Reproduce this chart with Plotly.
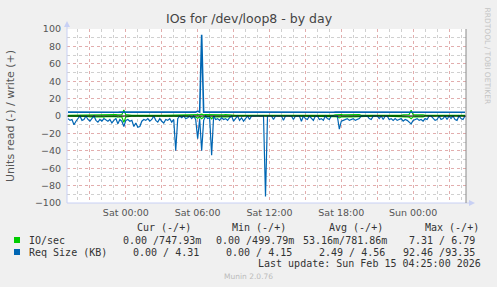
import pandas as pd
import plotly.graph_objects as go

# ---------------- data (10-minute samples, Fri 19:10 -> Sun 04:20) ----------------
START = "2026-02-13 19:10"
N_POINTS = 200

# Req Size (KB), read (plotted negative)
read_size = [
    3, 5, 4, 10, 6, 3, 0, 5, 4, 0,
    4, 6, 3, 0, 5, 7, 4, 6, 3, 5,
    6, 4, 8, 5, 3, 9, 4, 6, 12, 5,
    4, 6, 5, 12, 8, 13, 12, 6, 4, 5,
    3, 6, 4, 0, 5, 7, 3, 6, 8, 4,
    5, 3, 7, 4, 40, 3, 0, 2, 0, 3,
    2, 0, 3, 0, 4, 26, 3, 40, 5, 0,
    3, 2, 45, 0, 4, 3, 5, 2, 4, 3,
    5, 2, 0, 6, 3, 0, 5, 2, 6, 3,
    0, 4, 0, 0, 0, 0, 0, 0, 0, 92.46,
    0, 0, 0, 4, 0, 0, 0, 0, 5, 0,
    0, 0, 0, 4, 0, 0, 0, 6, 0, 3,
    4, 0, 3, 5, 0, 0, 4, 3, 5, 0,
    3, 4, 0, 0, 0, 0, 15, 6, 5, 4,
    3, 5, 4, 3, 5, 4, 3, 0, 0, 0,
    0, 3, 4, 0, 0, 0, 3, 0, 4, 0,
    0, 4, 3, 5, 3, 5, 4, 3, 6, 4,
    5, 7, 9, 5, 4, 3, 5, 4, 6, 3,
    4, 0, 0, 3, 5, 4, 0, 4, 3, 0,
    4, 0, 3, 0, 4, 5, 0, 3, 4, 0,
]

# Req Size (KB), write (plotted positive)
write_size = [
    4.41, 4.38, 4.45, 4.40, 4.36, 4.43, 4.47, 4.39, 4.42, 4.44,
    4.40, 4.37, 4.46, 4.42, 4.39, 4.41, 4.44, 4.38, 4.43, 4.40,
    4.45, 4.39, 4.42, 4.47, 4.40, 4.36, 4.43, 4.41, 4.50, 4.44,
    4.39, 4.42, 4.40, 4.46, 4.41, 4.38, 4.44, 4.40, 4.43, 4.39,
    4.42, 4.45, 4.38, 4.41, 4.40, 4.43, 4.47, 4.39, 4.41, 4.44,
    4.40, 4.42, 4.38, 4.45, 4.41, 4.39, 4.43, 4.40, 4.44, 4.42,
    4.38, 4.41, 4.46, 4.40, 4.43, 5.60, 4.39, 93.35, 4.42, 4.40,
    4.44, 4.38, 4.47, 4.41, 4.40, 4.43, 4.39, 4.45, 4.42, 4.40,
    4.37, 4.44, 4.41, 4.39, 4.43, 4.40, 4.46, 4.42, 4.38, 4.41,
    4.44, 4.40, 4.43, 4.39, 4.41, 4.45, 4.40, 4.38, 4.42, 4.44,
    4.41, 4.39, 4.43, 4.40, 4.46, 4.42, 4.38, 4.41, 4.44, 4.40,
    4.43, 4.39, 4.41, 4.45, 4.40, 4.38, 4.42, 4.44, 4.41, 4.39,
    4.43, 4.40, 4.46, 4.42, 4.38, 4.41, 4.44, 4.40, 4.43, 4.39,
    4.41, 4.45, 4.40, 4.38, 4.42, 4.44, 4.48, 4.39, 4.43, 4.40,
    4.46, 4.42, 4.38, 4.41, 4.44, 4.40, 4.43, 4.39, 4.41, 4.45,
    4.40, 4.38, 4.42, 4.44, 4.41, 4.39, 4.43, 4.40, 4.46, 4.42,
    4.38, 4.41, 4.44, 4.40, 4.43, 4.39, 4.41, 4.45, 4.40, 4.38,
    4.42, 4.44, 4.49, 4.39, 4.43, 4.40, 4.46, 4.42, 4.38, 4.41,
    4.44, 4.40, 4.43, 4.39, 4.41, 4.45, 4.40, 4.38, 4.42, 4.44,
    4.41, 4.39, 4.43, 4.40, 4.36, 4.42, 4.38, 4.35, 4.33, 4.31,
]

# IO/sec, write (plotted positive)
write_ios = [
    0.70, 0.75, 0.72, 0.80, 0.74, 0.71, 0.68, 0.76, 0.73, 0.70,
    1.40, 1.60, 1.20, 1.50, 1.70, 1.30, 1.50, 1.40, 1.80, 1.30,
    1.50, 1.60, 1.40, 1.70, 1.50, 1.30, 1.60, 1.40, 6.79, 1.50,
    1.30, 0.80, 0.75, 0.72, 0.78, 0.70, 0.76, 0.74, 0.71, 0.73,
    0.75, 0.72, 0.70, 0.77, 0.74, 0.71, 0.76, 0.73, 0.70, 0.75,
    0.72, 0.78, 0.74, 0.71, 0.76, 0.73, 0.70, 0.75, 0.72, 0.74,
    0.71, 1.30, 1.50, 1.40, 1.60, 1.80, 1.50, 2.20, 1.40, 1.60,
    1.50, 1.30, 1.90, 1.40, 1.60, 1.50, 1.30, 1.50, 1.40, 1.60,
    1.30, 1.50, 0.75, 0.72, 0.70, 0.74, 0.71, 0.76, 0.73, 0.70,
    0.75, 0.72, 0.70, 0.74, 0.71, 0.76, 0.73, 0.70, 0.75, 0.72,
    0.74, 0.71, 0.76, 0.73, 0.70, 0.75, 0.72, 0.74, 0.71, 0.76,
    0.73, 0.70, 0.75, 0.72, 0.74, 0.71, 0.76, 0.73, 0.70, 0.75,
    0.72, 0.74, 0.71, 0.76, 0.73, 0.70, 0.75, 0.72, 0.74, 0.71,
    0.76, 0.73, 0.70, 0.75, 1.40, 1.50, 2.30, 1.60, 1.40, 1.50,
    1.60, 1.40, 1.50, 1.30, 1.60, 1.40, 1.50, 0.74, 0.71, 0.76,
    0.73, 0.70, 0.75, 0.72, 0.74, 0.71, 0.76, 0.73, 0.70, 0.75,
    0.72, 0.74, 0.71, 0.76, 0.73, 0.70, 0.75, 0.72, 1.40, 1.60,
    1.50, 1.70, 6.50, 1.60, 1.40, 1.50, 1.30, 1.60, 1.40, 0.75,
    0.72, 0.74, 0.71, 0.76, 0.73, 0.70, 0.75, 0.72, 0.74, 0.71,
    0.76, 0.73, 0.70, 0.75, 0.72, 0.74, 0.71, 0.76, 0.73, 0.748,
]

# IO/sec, read (plotted negative)
read_ios = [
    0.03, 0.05, 0.02, 0.08, 0.04, 0.02, 0.00, 0.04, 0.03, 0.00,
    0.60, 0.90, 0.50, 0.80, 1.10, 0.60, 0.90, 0.70, 1.20, 0.60,
    0.80, 0.90, 1.30, 0.70, 0.60, 1.40, 0.80, 1.10, 7.31, 0.90,
    0.70, 0.06, 0.05, 0.09, 0.07, 0.10, 0.09, 0.05, 0.03, 0.04,
    0.02, 0.05, 0.03, 0.00, 0.04, 0.06, 0.02, 0.05, 0.07, 0.03,
    0.04, 0.02, 0.06, 0.03, 0.30, 0.02, 0.00, 0.01, 0.00, 0.02,
    0.01, 0.80, 1.00, 0.70, 1.20, 2.60, 0.90, 3.00, 1.10, 0.80,
    1.00, 0.70, 3.20, 0.80, 1.10, 0.90, 1.20, 0.80, 1.00, 0.90,
    1.10, 0.80, 0.00, 0.05, 0.02, 0.00, 0.04, 0.01, 0.05, 0.02,
    0.00, 0.03, 0.00, 0.00, 0.00, 0.00, 0.00, 0.00, 0.00, 0.40,
    0.00, 0.00, 0.00, 0.03, 0.00, 0.00, 0.00, 0.00, 0.04, 0.00,
    0.00, 0.00, 0.00, 0.03, 0.00, 0.00, 0.00, 0.05, 0.00, 0.02,
    0.03, 0.00, 0.02, 0.04, 0.00, 0.00, 0.03, 0.02, 0.04, 0.00,
    0.02, 0.03, 0.00, 0.00, 0.70, 0.90, 2.20, 1.00, 0.80, 0.90,
    0.70, 1.00, 0.90, 0.80, 1.00, 0.90, 0.70, 0.00, 0.00, 0.00,
    0.00, 0.02, 0.03, 0.00, 0.00, 0.00, 0.02, 0.00, 0.03, 0.00,
    0.00, 0.03, 0.02, 0.04, 0.02, 0.04, 0.03, 0.02, 0.80, 0.90,
    1.00, 1.20, 3.00, 1.00, 0.90, 0.80, 1.00, 0.90, 1.10, 0.02,
    0.03, 0.00, 0.00, 0.02, 0.04, 0.03, 0.00, 0.03, 0.02, 0.00,
    0.03, 0.00, 0.02, 0.00, 0.03, 0.04, 0.00, 0.02, 0.03, 0.00,
]

X_RANGE = ["2026-02-13 19:05", "2026-02-15 04:25"]
X_TICKS = pd.date_range("2026-02-13 21:00", "2026-02-15 03:00", freq="3h")
X_TICK_TEXT = [t.strftime("%a %H:%M") if t.hour % 6 == 0 else "" for t in X_TICKS]
Y_TICKS = list(range(-100, 101, 20))

TITLE = "IOs for /dev/loop8 - by day"
Y_TITLE = "Units read (-) / write (+)"
SIDE_TEXT = "RRDTOOL / TOBI OETIKER"
LEGEND_HEAD = ["Cur (-/+)", "Min (-/+)", "Avg (-/+)", "Max (-/+)"]
ROW_NAMES = ["IO/sec", "Req Size (KB)"]
ROW1_VALUES = ["0.00 /747.93m", "0.00 /499.79m", "53.16m/781.86m", "7.31 / 6.79"]
ROW2_VALUES = ["0.00 / 4.31", "0.00 / 4.15", "2.49 / 4.56", "92.46 /93.35"]
LAST_UPDATE = "Last update: Sun Feb 15 04:25:00 2026"
FOOTER = "Munin 2.0.76"

GREEN = "#00CC00"
BLUE = "#0066B3"

times = pd.date_range(START, periods=N_POINTS, freq="10min")

# ---------------- layout helpers (pixel -> paper) ----------------
W, H = 497, 287
L, R, T, B = 67, 466, 29, 203


def px(x):
    return (x - L) / (R - L)


def py(y):
    return (B - y) / (B - T)


fig = go.Figure()
line_w = 1.2
fig.add_trace(go.Scatter(x=times, y=write_ios, mode="lines",
                         line=dict(color=GREEN, width=line_w), hoverinfo="skip"))
fig.add_trace(go.Scatter(x=times, y=[-v for v in read_ios], mode="lines",
                         line=dict(color=GREEN, width=line_w), hoverinfo="skip"))
fig.add_trace(go.Scatter(x=times, y=[-v for v in read_size], mode="lines",
                         line=dict(color=BLUE, width=line_w), hoverinfo="skip"))
fig.add_trace(go.Scatter(x=times, y=write_size, mode="lines",
                         line=dict(color=BLUE, width=1.6), hoverinfo="skip"))

grid_major = "rgba(238,150,150,0.6)"
grid_minor = "rgba(200,200,200,0.85)"
tick_font = dict(family="DejaVu Sans", size=9.5, color="#555555")

fig.update_xaxes(
    type="date", range=X_RANGE, tickvals=X_TICKS, ticktext=X_TICK_TEXT,
    showgrid=True, gridcolor=grid_major, griddash="dot", gridwidth=1,
    minor=dict(dtick=3600000, tick0="2026-02-13 00:00", showgrid=True,
               gridcolor=grid_minor, griddash="dot", gridwidth=1),
    showline=False, zeroline=False, ticks="", tickfont=tick_font,
    ticklabelstandoff=2, fixedrange=True,
)
fig.update_yaxes(
    range=[-100, 100], tickvals=Y_TICKS, showgrid=True, gridcolor=grid_major,
    griddash="dot", gridwidth=1,
    minor=dict(dtick=10, showgrid=True, gridcolor=grid_minor, griddash="dot", gridwidth=1),
    zeroline=False, showline=False, ticks="", tickfont=tick_font,
    ticklabelstandoff=5, fixedrange=True,
)

axis_col = "#C8D0F4"
shapes = [
    # zero rule
    dict(type="line", xref="paper", yref="y", x0=0, x1=1, y0=0, y1=0,
         line=dict(color="black", width=1), layer="above"),
    # left axis
    dict(type="line", xref="paper", yref="paper", x0=0, x1=0, y0=0, y1=py(24),
         line=dict(color=axis_col, width=1), layer="above"),
    # bottom axis
    dict(type="line", xref="paper", yref="paper", x0=0, x1=px(470), y0=0, y1=0,
         line=dict(color=axis_col, width=1), layer="above"),
    # right edge marker
    dict(type="line", xref="paper", yref="paper", x0=1, x1=1, y0=0, y1=1,
         line=dict(color="#8A8A8A", width=1), layer="above"),
    # arrows
    dict(type="path", xref="paper", yref="paper",
         path=f"M {px(64)},{py(27)} L {px(70)},{py(27)} L {px(67)},{py(21)} Z",
         fillcolor=axis_col, line=dict(width=0), layer="above"),
    dict(type="path", xref="paper", yref="paper",
         path=f"M {px(469)},{py(200)} L {px(469)},{py(206)} L {px(475)},{py(203)} Z",
         fillcolor=axis_col, line=dict(width=0), layer="above"),
    # legend swatches
    dict(type="rect", xref="paper", yref="paper", x0=px(14), x1=px(20), y0=py(243), y1=py(237),
         fillcolor=GREEN, line=dict(width=0)),
    dict(type="rect", xref="paper", yref="paper", x0=px(14), x1=px(20), y0=py(255), y1=py(249),
         fillcolor=BLUE, line=dict(width=0)),
]

mono = dict(family="DejaVu Sans Mono", size=10, color="#333333")
ann = []


def text(x, y, s, font, xanchor="left", yanchor="middle", angle=0):
    ann.append(dict(x=px(x), y=py(y), xref="paper", yref="paper", text=s, showarrow=False,
                    font=font, xanchor=xanchor, yanchor=yanchor, textangle=angle))


text(249, 19, TITLE, dict(family="DejaVu Sans", size=12.5, color="#444444"), xanchor="center")
text(10, 116, Y_TITLE, dict(family="DejaVu Sans", size=11, color="#555555"),
     xanchor="center", yanchor="middle", angle=-90)
text(487, 5, SIDE_TEXT, dict(family="DejaVu Sans", size=7.5, color="#C4C4C4"),
     xanchor="center", yanchor="top", angle=90)

for s, x in zip(LEGEND_HEAD, [135, 230, 326.7, 422.7]):
    text(x, 227.5, s, mono)
text(26.5, 240, ROW_NAMES[0], mono)
text(26.5, 252, ROW_NAMES[1], mono)

# row 1 values, right-aligned to the reference column ends
for s, x in zip(ROW1_VALUES, [203, 296, 389, 477]):
    text(x, 240, s, mono, xanchor="right")
# row 2 values
for s, x, anchor in zip(ROW2_VALUES, [130.7, 224, 316.7, 477], ["left", "left", "left", "right"]):
    text(x, 252, s, mono, xanchor=anchor)

text(482.5, 263.5, LAST_UPDATE, mono, xanchor="right")
text(248, 276.5, FOOTER, dict(family="DejaVu Sans", size=7.5, color="#BBBBBB"), xanchor="center")

fig.update_layout(
    width=W, height=H, autosize=False,
    margin=dict(l=L, r=W - R, t=T, b=H - B, pad=0),
    paper_bgcolor="#F0F0F0", plot_bgcolor="#FFFFFF",
    showlegend=False, shapes=shapes, annotations=ann,
    hovermode=False,
)

fig.write_html("out.html", config={"displayModeBar": False, "staticPlot": True})
